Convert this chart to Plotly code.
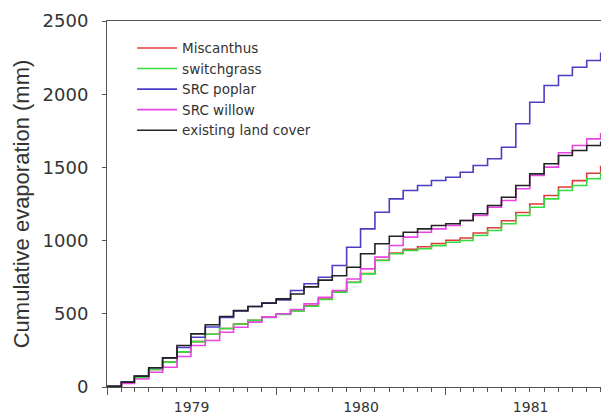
import pandas as pd
import plotly.graph_objects as go

# monthly cumulative evaporation (mm), Jan 1979 .. Dec 1981
months = pd.date_range("1979-01-01", periods=36, freq="MS")

miscanthus = [5, 30, 65, 120, 170, 240, 310, 360, 400, 430, 455, 477,
              497, 522, 555, 600, 650, 716, 775, 866, 915, 940,
              958, 980, 1002, 1018, 1052, 1088, 1136, 1192, 1250, 1308,
              1366, 1410, 1460, 1505]
switchgrass = [5, 30, 65, 120, 170, 240, 310, 360, 400, 430, 455, 475,
               495, 520, 552, 598, 648, 714, 773, 864, 910, 932,
               944, 966, 989, 1001, 1035, 1069, 1115, 1171, 1228, 1285,
               1342, 1376, 1422, 1462]
poplar = [5, 33, 74, 131, 199, 270, 340, 410, 475, 520, 550, 575,
          595, 659, 705, 750, 830, 955, 1080, 1194, 1285, 1342,
          1376, 1411, 1433, 1467, 1513, 1559, 1638, 1798, 1945, 2059,
          2128, 2184, 2230, 2280]
willow = [3, 25, 55, 101, 135, 208, 283, 318, 374, 408, 443, 477,
          500, 529, 568, 613, 659, 738, 807, 887, 967, 1024,
          1057, 1080, 1103, 1137, 1171, 1228, 1274, 1354, 1445, 1502,
          1600, 1650, 1695, 1730]
existing = [5, 33, 74, 131, 199, 283, 363, 425, 482, 522, 550, 572,
            602, 635, 684, 730, 760, 818, 910, 978, 1030, 1057,
            1080, 1103, 1115, 1137, 1183, 1240, 1296, 1376, 1456, 1525,
            1581, 1615, 1650, 1672]

names = ["Miscanthus", "switchgrass", "SRC poplar", "SRC willow", "existing land cover"]
series = [miscanthus, switchgrass, poplar, willow, existing]
colors = ["#dd3b3b", "#35dc3f", "#4a3fc4", "#e844e4", "#222222"]

# extend last step to the end of 1981
x = list(months) + [pd.Timestamp("1982-01-01")]

fig = go.Figure()
for name, vals, col in zip(names, series, colors):
    fig.add_trace(go.Scatter(x=x, y=vals + [vals[-1]], name=name, mode="lines",
                             line=dict(color=col, width=1.6, shape="hv")))

# page body has an 8px margin, so the figure is sized to fit inside it
fig.update_layout(
    width=601, height=409,
    margin=dict(l=99, r=0, t=13, b=30),
    paper_bgcolor="white", plot_bgcolor="white",
    font=dict(family="DejaVu Sans", color="#333333", size=14),
    showlegend=True,
    legend=dict(x=0.05, y=0.968, xanchor="left", yanchor="top",
                bgcolor="rgba(0,0,0,0)", font=dict(size=13.5, color="#333333"),
                tracegroupgap=0, itemwidth=40),
)
fig.update_xaxes(
    type="date", range=["1979-01-01", "1981-12-19"],
    showline=True, linecolor="#555555", linewidth=1, mirror=True,
    showgrid=False, zeroline=False,
    ticks="outside", ticklen=7, tickcolor="#555555",
    dtick="M12", tick0="1979-01-01", tickformat="%Y", ticklabelmode="period",
    minor=dict(dtick="M1", ticks="outside", ticklen=4, tickcolor="#555555"),
    tickfont=dict(size=14),
)
fig.update_yaxes(
    range=[0, 2500], tickvals=[0, 500, 1000, 1500, 2000, 2500],
    showline=True, linecolor="#555555", linewidth=1,
    showgrid=False, zeroline=False,
    ticks="outside", ticklen=4, tickcolor="#555555", ticklabelstandoff=10,
    tickfont=dict(size=18),
    title=dict(text="Cumulative evaporation (mm)",
               font=dict(family="Liberation Sans", size=22), standoff=6),
)

fig.write_html("out.html")
